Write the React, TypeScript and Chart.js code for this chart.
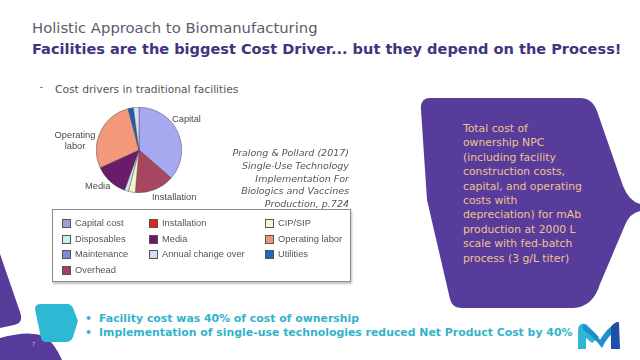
import React, { useEffect, useRef } from "react";
import { Chart, registerables } from "chart.js";

Chart.register(...registerables);

// ---- data (pie drawn clockwise from 12 o'clock) ----
const sliceLabels = ["Capital", "Installation", "CIP/SIP", "Disposables", "Media", "Operating labor", "Utilities", "Annual change over"];
const sliceValues = [36.4, 15.0, 2.6, 1.5, 12.7, 27.7, 2.0, 2.1];
const sliceColors = ["#A7A9F0", "#A8465F", "#F6F2C9", "#C9EDEE", "#6B1B6B", "#F4987B", "#1E5EB4", "#DCDCF4"];

const legendLabels = ["Capital cost", "Installation", "CIP/SIP", "Disposables", "Media", "Operating labor", "Maintenance", "Annual change over", "Utilities", "Overhead"];
const legendColors = ["#9C9DD9", "#E3241C", "#F8F6D2", "#CCF0EE", "#6C166C", "#F2957A", "#8088E0", "#DADAF2", "#1C68C4", "#A3405C"];

const titleText = "Holistic Approach to Biomanufacturing";
const subtitleText = "Facilities are the biggest Cost Driver... but they depend on the Process!";
const sectionText = "Cost drivers in traditional facilities";
const citationLines = ["Pralong & Pollard (2017)", "Single-Use Technology", "Implementation For", "Biologics and Vaccines", "Production, p.724"];
const calloutLines = [
  "Total cost of",
  "ownership NPC",
  "(including facility",
  "construction costs,",
  "capital, and operating",
  "costs with",
  "depreciation) for mAb",
  "production at 2000 L",
  "scale with fed-batch",
  "process (3 g/L titer)",
];
const bulletLines = [
  "Facility cost was 40% of cost of ownership",
  "Implementation of single-use technologies reduced Net Product Cost by 40%",
];

const VERDANA = '"DejaVu Sans", Verdana, sans-serif';
const ARIAL = '"Liberation Sans", Arial, sans-serif';

function PieChart() {
  const ref = useRef<HTMLCanvasElement | null>(null);
  useEffect(() => {
    if (!ref.current) return;
    const chart = new Chart(ref.current, {
      type: "pie",
      data: {
        labels: sliceLabels,
        datasets: [
          {
            data: sliceValues,
            backgroundColor: sliceColors,
            borderColor: "rgba(70,70,80,0.75)",
            borderWidth: 0.6,
          },
        ],
      },
      options: {
        responsive: false,
        maintainAspectRatio: false,
        animation: false,
        devicePixelRatio: 1,
        layout: { padding: 0 },
        plugins: {
          legend: { display: false },
          tooltip: { enabled: false },
        },
      },
    });
    return () => chart.destroy();
  }, []);
  return (
    <canvas
      ref={ref}
      width={86}
      height={86}
      style={{ position: "absolute", left: 96, top: 107, width: 86, height: 86 }}
    />
  );
}

const abs = (s: React.CSSProperties): React.CSSProperties => ({ position: "absolute", whiteSpace: "pre", ...s });

export default function App() {
  const legendColX = [62, 149, 265];
  const legendRowY = [223, 238.5, 254, 269.5];
  return (
    <div
      style={{
        position: "fixed",
        left: 0,
        top: 0,
        width: 640,
        height: 360,
        background: "#ffffff",
        overflow: "hidden",
        fontFamily: VERDANA,
      }}
    >
      {/* decorative shapes */}
      <svg width={640} height={360} style={{ position: "absolute", left: 0, top: 0 }}>
        <path
          d="M 430 98 L 580 98 Q 592 98 597 111 L 623 186 Q 629 201 640 204 L 640 211 Q 630 213 625 225 L 600 284 Q 593 307 573 308 L 462 308 Q 452 308 450 299 L 427 200 L 421 110 Q 420 98 430 98 Z"
          fill="#573C9C"
        />
        <path d="M 0 254 L 20 312 Q 24 323 14 325 L 0 328 Z" fill="#573C9C" />
        <path d="M 0 338 Q 28 330 44 336 Q 54 342 62 360 L 0 360 Z" fill="#573C9C" />
        <path
          d="M 41 304 L 67 304 Q 71 304 73 308 L 78 321 L 73 337 Q 71 342 66 342 L 46 342 Q 42 342 41 338 L 35 309 Q 35 304 41 304 Z"
          fill="#2DB8D4"
        />
        {/* logo */}
        <path d="M 578 331 Q 578 322 586 324 L 599 337 L 592 343 L 586 338 L 586 349 L 578 349 Z" fill="#2FB5D8" />
        <path d="M 583 324 Q 596 332 600 340 Q 607 328 617 322 L 618 329 Q 608 335 602 348 Q 594 337 583 330 Z" fill="#1A8FC9" />
        <path d="M 611 327 Q 614 322 619 322 L 620 349 L 611 349 Z" fill="#1F4FA8" />
      </svg>

      <div style={abs({ left: 32, top: 21, fontSize: 14.8, lineHeight: "14.8px", color: "#5C5C6C" })}>{titleText}</div>
      <div style={abs({ left: 32, top: 42, fontSize: 14.55, lineHeight: "14.55px", fontWeight: 700, color: "#3F3480" })}>{subtitleText}</div>

      <div style={abs({ left: 40, top: 87, width: 3, height: 1, background: "#888" })} />
      <div style={abs({ left: 55, top: 84.5, fontSize: 10.7, lineHeight: "10.7px", color: "#555" })}>{sectionText}</div>

      <PieChart />

      {/* pie labels */}
      <div style={abs({ left: 172, top: 114, fontSize: 9.3, lineHeight: "10px", fontFamily: ARIAL, color: "#4A4A4A" })}>Capital</div>
      <div style={abs({ left: 52, top: 130, width: 46, fontSize: 9.3, lineHeight: "11px", fontFamily: ARIAL, color: "#4A4A4A", textAlign: "center" })}>
        {"Operating\nlabor"}
      </div>
      <div style={abs({ left: 85, top: 181, fontSize: 9.3, lineHeight: "10px", fontFamily: ARIAL, color: "#4A4A4A" })}>Media</div>
      <div style={abs({ left: 152, top: 192, fontSize: 9.3, lineHeight: "10px", fontFamily: ARIAL, color: "#4A4A4A" })}>Installation</div>

      {/* citation */}
      <div
        style={abs({
          right: 640 - 349,
          top: 147,
          fontSize: 9.5,
          lineHeight: "12.75px",
          fontStyle: "italic",
          color: "#555",
          textAlign: "right",
        })}
      >
        {citationLines.join("\n")}
      </div>

      {/* legend box */}
      <div
        style={abs({
          left: 52,
          top: 209,
          width: 297,
          height: 71,
          border: "1px solid #8C8C8C",
          boxShadow: "1px 2px 2px rgba(0,0,0,0.25)",
          background: "#fff",
        })}
      />
      {legendLabels.map((lab, i) => {
        const col = i < 9 ? i % 3 : 0;
        const row = Math.floor(i / 3);
        const x = legendColX[col];
        const y = legendRowY[row];
        return (
          <React.Fragment key={lab}>
            <div
              style={abs({
                left: x,
                top: y - 4,
                width: 7,
                height: 7,
                background: legendColors[i],
                border: "0.8px solid #555",
              })}
            />
            <div style={abs({ left: x + 13, top: y - 5, fontSize: 9.3, lineHeight: "10px", fontFamily: ARIAL, color: "#555" })}>
              {lab}
            </div>
          </React.Fragment>
        );
      })}

      {/* callout text */}
      <div style={abs({ left: 463, top: 122, fontSize: 10.8, lineHeight: "14.4px", color: "#F2C28E" })}>
        {calloutLines.join("\n")}
      </div>

      {/* bottom bullets */}
      {bulletLines.map((t, i) => (
        <React.Fragment key={t}>
          <div style={abs({ left: 85, top: 313 + i * 13.5, fontSize: 10.9, lineHeight: "11px", fontWeight: 700, color: "#31B3CA" })}>•</div>
          <div style={abs({ left: 99, top: 313 + i * 13.5, fontSize: 10.9, lineHeight: "11px", fontWeight: 700, color: "#31B3CA" })}>{t}</div>
        </React.Fragment>
      ))}

      <div style={abs({ left: 32, top: 342, fontSize: 5, lineHeight: "5px", color: "#C8C0E8" })}>7</div>
    </div>
  );
}
